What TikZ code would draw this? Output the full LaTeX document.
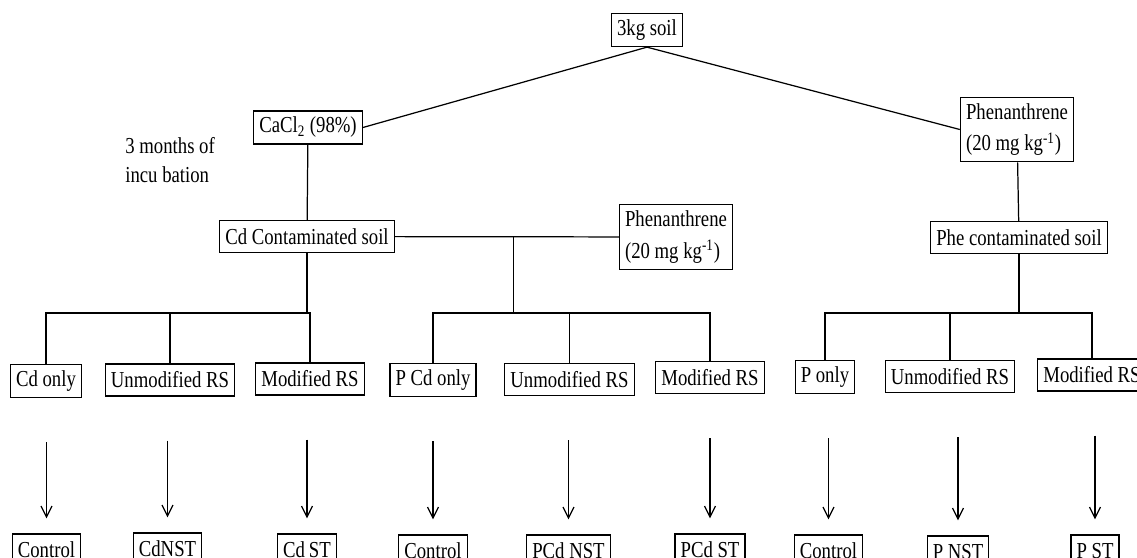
\documentclass[tikz,border=0pt]{standalone}
\usepackage{fontspec}
\setmainfont{Liberation Serif}[FakeStretch=0.82]
\usepackage{tikz}
\usetikzlibrary{arrows.meta,calc}

\begin{document}
\begin{tikzpicture}[x=0.02cm,y=-0.02cm,>={Straight Barb[length=2.2mm,width=2.2mm]},
  box/.style={draw,line width=0.7pt,inner xsep=3.2pt,inner ysep=3.5pt,minimum height=0.64cm,font=\fontsize{13}{18}\selectfont},
  twoline/.style={box,align=left},
  conn/.style={line width=0.7pt}]

        \clip (0,0) rectangle (1137,558);

        \node[box] (soil) at (647,30) {3kg soil};
        \node[box] (cacl) at (308,127.5) {CaCl\textsubscript{2} (98\%)};
        \node[twoline] (phenR) at (1017,129.5) {Phenanthrene\\(20 mg kg\textsuperscript{-1})};
        \node[anchor=west,align=left,inner sep=0pt,font=\fontsize{13}{16.5}\selectfont] (incub) at (125,160) {3 months of\\incu bation};
        \node[box] (cdsoil) at (307,236.5) {Cd Contaminated soil};
        \node[twoline] (phenM) at (676,237) {Phenanthrene\\(20 mg kg\textsuperscript{-1})};
        \node[box] (phesoil) at (1019,237.5) {Phe contaminated soil};

        \node[box] (cdonly) at (46,381) {Cd only};
        \node[box] (unmodA) at (170,380) {Unmodified RS};
        \node[box] (modA) at (310,379) {Modified RS};
        \node[box] (pcdonly) at (433,380) {P Cd only};
        \node[box] (unmodB) at (569.5,379.5) {Unmodified RS};
        \node[box] (modB) at (710,377.5) {Modified RS};
        \node[box] (ponly) at (825,377) {P only};
        \node[box] (unmodC) at (950,376.5) {Unmodified RS};
        \node[box] (modC) at (1092,375) {Modified RS};

        \node[box] (ctrlA) at (46.5,550) {Control};
        \node[box] (cdnst) at (167.5,549) {CdNST};
        \node[box] (cdst) at (307,550) {Cd\,ST};
        \node[box] (ctrlB) at (433,551) {Control};
        \node[box] (pcdnst) at (568.5,551) {PCd NST};
        \node[box] (pcdst) at (710,550) {PCd ST};
        \node[box] (ctrlC) at (828.5,551) {Control};
        \node[box] (pnst) at (958,552) {P NST};
        \node[box] (pst) at (1095,551) {P ST};

        \coordinate (mid) at ($(cdsoil.east)!0.53!(phenM.west)$);
        \coordinate (busA) at (cdsoil.south |- 0,313);
        \coordinate (busB) at (mid |- 0,313);
        \coordinate (busC) at (phesoil.south |- 0,313);

        \path[draw,conn] (soil.south) -- (cacl.east);
        \path[draw,conn] (soil.south) -- (phenR.west);
        \path[draw,conn] (cacl) -- (cdsoil);
        \path[draw,conn] (cdsoil) -- (phenM);
        \path[draw,conn] (phenR) -- (phesoil);

        \path[draw,conn] (cdsoil.south) -- (busA);
        \path[draw,conn] (cdonly.north) |- (busA) -| (modA.north);
        \path[draw,conn] (unmodA.north) -- (unmodA.north |- busA);
        \path[draw,conn] (mid) -- (busB);
        \path[draw,conn] (pcdonly.north) |- (busB) -| (modB.north);
        \path[draw,conn] (unmodB.north) -- (unmodB.north |- busB);
        \path[draw,conn] (phesoil.south) -- (busC);
        \path[draw,conn] (ponly.north) |- (busC) -| (modC.north);
        \path[draw,conn] (unmodC.north) -- (unmodC.north |- busC);

        \path[draw,conn,->,shorten <=0.88cm,shorten >=0.3cm] (cdonly.south -| ctrlA) -- (ctrlA);
        \path[draw,conn,->,shorten <=0.88cm,shorten >=0.3cm] (unmodA.south -| cdnst) -- (cdnst);
        \path[draw,conn,->,shorten <=0.88cm,shorten >=0.3cm] (modA.south -| cdst) -- (cdst);
        \path[draw,conn,->,shorten <=0.88cm,shorten >=0.3cm] (pcdonly.south -| ctrlB) -- (ctrlB);
        \path[draw,conn,->,shorten <=0.88cm,shorten >=0.3cm] (unmodB.south -| pcdnst) -- (pcdnst);
        \path[draw,conn,->,shorten <=0.88cm,shorten >=0.3cm] (modB.south -| pcdst) -- (pcdst);
        \path[draw,conn,->,shorten <=0.88cm,shorten >=0.3cm] (ponly.south -| ctrlC) -- (ctrlC);
        \path[draw,conn,->,shorten <=0.88cm,shorten >=0.3cm] (unmodC.south -| pnst) -- (pnst);
        \path[draw,conn,->,shorten <=0.88cm,shorten >=0.3cm] (modC.south -| pst) -- (pst);
      \end{tikzpicture}
\end{document}
